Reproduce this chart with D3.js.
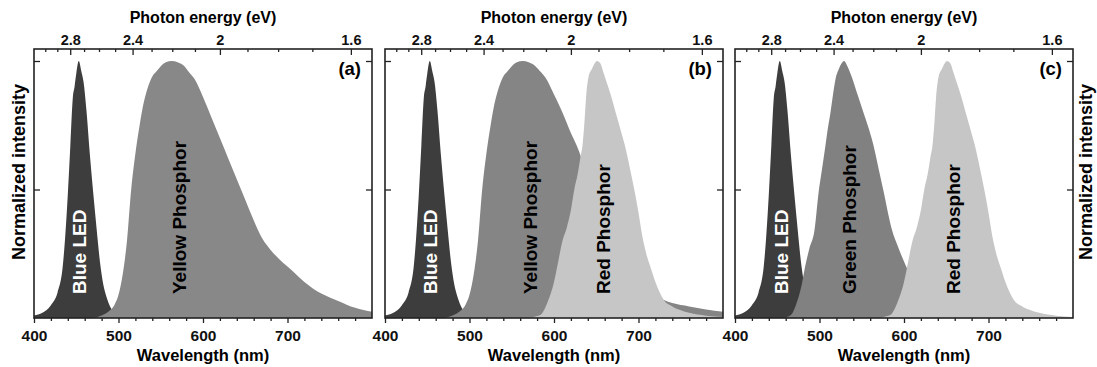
<!DOCTYPE html>
<html>
<head>
<meta charset="utf-8">
<script src="https://cdn.jsdelivr.net/npm/d3@7"></script>
<style>
  body { margin: 0; background: #fff; }
  text { font-family: "Liberation Sans", Arial, sans-serif; font-weight: bold; }
</style>
</head>
<body>
<div id="chart"></div>
<script>
// spectra as [wavelength nm, normalized intensity]
var blueLED = [[400,0.01],[410,0.02],[420,0.05],[428,0.1],[434,0.2],[437,0.32],[440,0.48],[443,0.67],[446,0.86],[448,0.9],[450,0.95],[453,1.0],[456,0.96],[459,0.91],[462,0.81],[466,0.64],[470,0.49],[474,0.35],[478,0.22],[482,0.13],[486,0.08],[490,0.045],[495,0.02],[500,0.01],[510,0.004],[520,0]];
var yellowA = [[470,0],[480,0.01],[490,0.03],[495,0.05],[500,0.09],[505,0.17],[510,0.3],[515,0.5],[520,0.64],[525,0.75],[530,0.84],[535,0.9],[540,0.94],[545,0.96],[550,0.98],[556,0.995],[563,1.0],[570,0.995],[578,0.98],[585,0.95],[590,0.93],[600,0.86],[610,0.78],[620,0.7],[630,0.62],[640,0.54],[650,0.46],[660,0.38],[670,0.31],[680,0.265],[690,0.23],[700,0.2],[710,0.17],[720,0.14],[730,0.115],[740,0.095],[750,0.08],[760,0.066],[770,0.052],[780,0.04],[790,0.031],[800,0.024]];
var yellowB = [[470,0],[480,0.01],[490,0.03],[495,0.05],[500,0.09],[505,0.17],[510,0.3],[515,0.5],[520,0.64],[525,0.75],[530,0.84],[535,0.9],[540,0.94],[545,0.96],[550,0.98],[556,0.995],[563,1.0],[570,0.995],[578,0.98],[585,0.955],[590,0.935],[600,0.87],[610,0.8],[620,0.72],[627,0.67],[640,0.55],[660,0.38],[680,0.24],[700,0.14],[710,0.11],[720,0.085],[730,0.07],[740,0.058],[760,0.045],[780,0.033],[800,0.024]];
var greenPh = [[455,0],[462,0.005],[467,0.015],[472,0.05],[476,0.09],[479,0.13],[483,0.2],[488,0.27],[494,0.34],[499,0.49],[503,0.58],[507,0.67],[510,0.74],[513,0.8],[516,0.87],[519,0.93],[523,0.97],[526,0.99],[529,1.0],[533,0.98],[538,0.94],[545,0.87],[552,0.8],[558,0.74],[564,0.67],[570,0.58],[576,0.49],[581,0.41],[586,0.34],[592,0.285],[598,0.235],[604,0.19],[610,0.15],[618,0.105],[628,0.065],[638,0.038],[650,0.018],[670,0.006],[700,0]];
var redPh = [[570,0],[580,0.008],[585,0.015],[592,0.058],[600,0.14],[605,0.22],[610,0.3],[615,0.35],[620,0.42],[624,0.5],[628,0.56],[631,0.62],[634,0.68],[636,0.76],[638,0.86],[641,0.94],[645,0.97],[648,0.99],[651,1.0],[655,0.99],[658,0.96],[661,0.93],[667,0.87],[673,0.8],[679,0.73],[684,0.67],[690,0.58],[695,0.5],[700,0.41],[705,0.31],[710,0.24],[715,0.19],[720,0.14],[725,0.1],[730,0.07],[740,0.045],[750,0.03],[760,0.02],[780,0.009],[800,0.004]];

var wlMajor = [400, 500, 600, 700];
var wlMinor = [420, 440, 460, 480, 520, 540, 560, 580, 620, 640, 660, 680, 720, 740, 760, 780];
var evMajor = [2.8, 2.4, 2, 1.6];
var evMinor = [3.0, 2.9, 2.7, 2.6, 2.5, 2.3, 2.2, 2.1, 1.9, 1.8, 1.7];
var yTicks = [0.5, 1];

var panels = [
  {tag: "(a)", series: [
    {data: blueLED, fill: "#3d3d3d", label: "Blue LED", at: 453, ink: "#fff"},
    {data: yellowA, fill: "#888888", label: "Yellow Phosphor", at: 572, ink: "#000"}]},
  {tag: "(b)", series: [
    {data: blueLED, fill: "#3d3d3d", label: "Blue LED", at: 453, ink: "#fff"},
    {data: yellowB, fill: "#858585", label: "Yellow Phosphor", at: 572, ink: "#000"},
    {data: redPh, fill: "#c6c6c6", label: "Red Phosphor", at: 658, ink: "#000"}]},
  {tag: "(c)", series: [
    {data: blueLED, fill: "#3d3d3d", label: "Blue LED", at: 455, ink: "#fff"},
    {data: greenPh, fill: "#818181", label: "Green Phosphor", at: 535, ink: "#000"},
    {data: redPh, fill: "#c6c6c6", label: "Red Phosphor", at: 658, ink: "#000"}]}
];

var W = 1097, H = 367;
var lefts = [34, 385, 735], pw = 338, plotTop = 49, plotBottom = 318;

var svg = d3.select("#chart").append("svg")
  .attr("width", W).attr("height", H);

var y = d3.scaleLinear().domain([0, 1.0467]).range([plotBottom, plotTop]);

panels.forEach(function (p, i) {
  var x = d3.scaleLinear().domain([400, 800]).range([lefts[i], lefts[i] + pw]);

  // photon energy scale on top, E = 1240 / lambda
  var e = function (v) { return x(1240 / v); };
  e.domain = function () { return [1240 / 400, 1240 / 800]; };
  e.range = function () { return x.range(); };
  e.copy = function () { return e; };

  var g = svg.append("g");

  g.append("clipPath").attr("id", "clip" + i)
    .append("rect")
    .attr("x", lefts[i]).attr("y", plotTop).attr("width", pw).attr("height", plotBottom - plotTop);

  var area = d3.area()
    .x(function (d) { return x(d[0]); })
    .y0(y(0))
    .y1(function (d) { return y(d[1]); })
    .curve(d3.curveMonotoneX);

  var plot = g.append("g").attr("clip-path", "url(#clip" + i + ")");
  p.series.forEach(function (s) {
    plot.append("path").datum(s.data)
      .attr("d", area)
      .attr("fill", s.fill);
  });

  p.series.forEach(function (s) {
    g.append("text")
      .attr("transform", "translate(" + x(s.at) + ",294) rotate(-90)")
      .attr("dy", "0.36em")
      .style("font-size", "19px")
      .attr("fill", s.ink)
      .text(s.label);
  });

  // bottom axis
  g.append("g").attr("transform", "translate(0," + plotBottom + ")")
    .call(d3.axisBottom(x).tickValues(wlMinor).tickSize(3).tickFormat(""));
  g.append("g").attr("transform", "translate(0," + plotBottom + ")")
    .style("font-size", "15.5px")
    .call(d3.axisBottom(x).tickValues(wlMajor).tickSize(5).tickPadding(7).tickFormat(d3.format("d")));

  // top axis, ticks pointing in
  g.append("g").attr("transform", "translate(0," + plotTop + ")")
    .call(d3.axisTop(e).tickValues(evMinor).tickSize(-3).tickFormat(""));
  g.append("g").attr("transform", "translate(0," + plotTop + ")")
    .style("font-size", "14.5px")
    .call(d3.axisTop(e).tickValues(evMajor).tickSize(-6).tickPadding(4)
      .tickFormat(function (d) { return d; }));

  g.append("g").attr("transform", "translate(" + lefts[i] + ",0)")
    .call(d3.axisLeft(y).tickValues(yTicks).tickSize(-6).tickFormat(""));
  g.append("g").attr("transform", "translate(" + (lefts[i] + pw) + ",0)")
    .call(d3.axisRight(y).tickValues(yTicks).tickSize(-6).tickFormat(""));

  g.selectAll(".domain").remove();
  g.selectAll(".tick line").attr("stroke", "#222").attr("stroke-width", 1.3);
  g.selectAll(".tick text").attr("fill", "#111").style("font-weight", "bold");

  g.append("rect")
    .attr("x", lefts[i]).attr("y", plotTop)
    .attr("width", pw).attr("height", plotBottom - plotTop)
    .attr("fill", "none").attr("stroke", "#222").attr("stroke-width", 1.6);

  g.append("text")
    .attr("x", lefts[i] + pw - 11).attr("y", 75)
    .attr("text-anchor", "end")
    .style("font-size", "18.5px")
    .text(p.tag);

  g.append("text")
    .attr("x", lefts[i] + pw / 2).attr("y", 23)
    .attr("text-anchor", "middle")
    .style("font-size", "16px")
    .text("Photon energy (eV)");

  g.append("text")
    .attr("x", lefts[i] + pw / 2).attr("y", 361)
    .attr("text-anchor", "middle")
    .style("font-size", "16.5px")
    .text("Wavelength (nm)");
});

svg.append("text")
  .attr("transform", "translate(25,172) rotate(-90)")
  .attr("text-anchor", "middle")
  .style("font-size", "18px")
  .text("Normalized intensity");

svg.append("text")
  .attr("transform", "translate(1092,172) rotate(-90)")
  .attr("text-anchor", "middle")
  .style("font-size", "18px")
  .text("Normalized intensity");
</script>
</body>
</html>
